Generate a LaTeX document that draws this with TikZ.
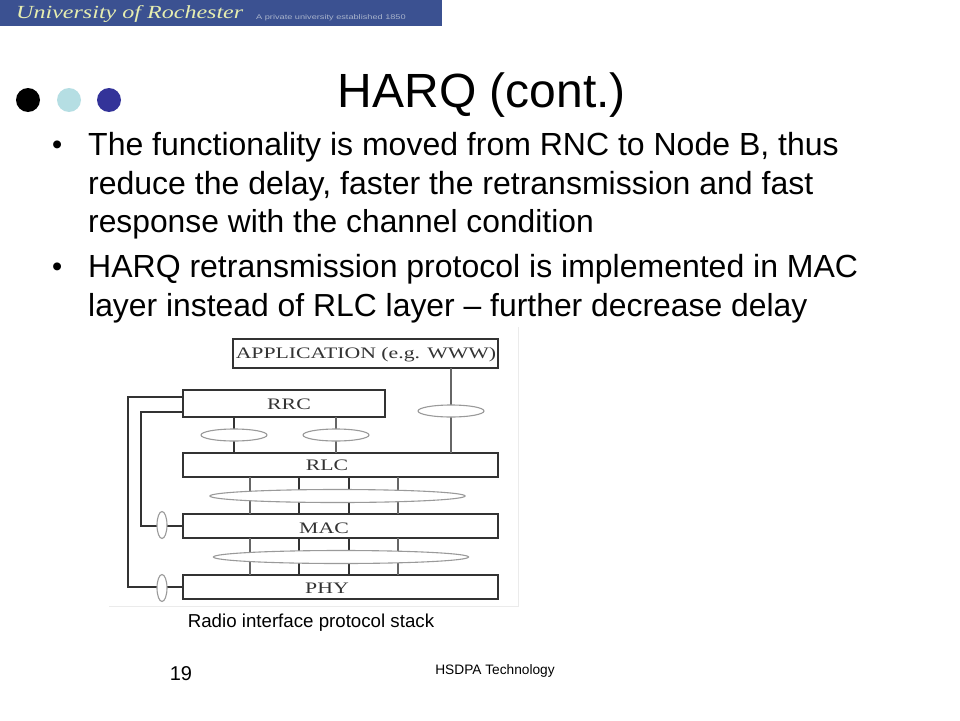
\documentclass[tikz,border=0pt]{standalone}
\usepackage{fontspec}
\setmainfont{Liberation Sans}
\newfontfamily\bannerface[FakeStretch=1.3]{Liberation Serif}
\newfontfamily\smallface[FakeStretch=1.35]{Liberation Sans}
\newfontfamily\stackface[FakeStretch=1.36]{Liberation Serif}
\usetikzlibrary{shapes.geometric}
\definecolor{bannerblue}{HTML}{3B5191}
\definecolor{bannertext}{HTML}{E6EDB0}
\definecolor{bannersmall}{HTML}{A9B4CC}
\definecolor{dotcyan}{HTML}{B5DEE3}
\definecolor{dotblue}{HTML}{333399}
\definecolor{stackline}{HTML}{333333}
\definecolor{ovalline}{HTML}{9A9A9A}
\tikzset{
  bodyline/.style={anchor=base west,inner sep=0pt,font=\fontsize{32}{32}\selectfont,text=black},
  bulletmark/.style={anchor=base west,inner sep=0pt,font=\fontsize{29}{29}\selectfont,text=black},
  layerbox/.style={draw=stackline,line width=1.6pt,fill=white,anchor=north west,inner sep=0pt,outer sep=0pt},
  layertext/.style={anchor=base,inner sep=0pt,font=\stackface\fontsize{16}{16}\selectfont,text=stackline},
  oval/.style={ellipse,draw=ovalline,line width=1.1pt,fill=white,inner sep=0pt},
  dot/.style={circle,inner sep=0pt,minimum size=24pt},
  wire/.style={draw=stackline,line width=1.5pt},
  sap/.style={draw=stackline!75,line width=1.2pt},
}
\begin{document}
\begin{tikzpicture}[x=1pt,y=-1pt]
\useasboundingbox (0,0) rectangle (960,720);
% banner
\node[fill=bannerblue,anchor=north west,minimum width=442pt,minimum height=26pt,inner sep=0pt,outer sep=0pt] (banner) at (0,0) {};
\node[anchor=base west,inner sep=0pt,text=bannertext,font=\bannerface\itshape\fontsize{18.5}{18.5}\selectfont] (uni) at (16,18.5) {University of Rochester};
\node[anchor=base west,inner sep=0pt,text=bannersmall,font=\smallface\fontsize{6.8}{6.8}\selectfont] (priv) at (256,19) {A private university established 1850};
% dots
\node[dot,fill=black] (d1) at (28,100) {};
\node[dot,fill=dotcyan] (d2) at (69,100) {};
\node[dot,fill=dotblue] (d3) at (109,100) {};
% title
\node[anchor=base,inner sep=0pt,font=\fontsize{48}{48}\selectfont] (title) at (482,107) {HARQ (cont.)};
% body
\node[bulletmark] (b1) at (52,154) {•};
\node[bodyline] (l1) at (88,155) {The functionality is moved from RNC to Node B, thus};
\node[bodyline] (l2) at (88,194) {reduce the delay, faster the retransmission and fast};
\node[bodyline,font=\fontsize{31.8}{32}\selectfont] (l3) at (88,232) {response with the channel condition};
\node[bulletmark] (b2) at (52,276) {•};
\node[bodyline] (l4) at (88,277) {HARQ retransmission protocol is implemented in MAC};
\node[bodyline,font=\fontsize{31.87}{32}\selectfont] (l5) at (88,316) {layer instead of RLC layer – further decrease delay};
% picture edge
\draw[black!8,line width=0.8pt] (109,606) -- (518,606) -- (518,327);
% layers
\node[layerbox,minimum width=265pt,minimum height=29pt] (app) at (233,339) {};
\node[layerbox,minimum width=202pt,minimum height=27pt] (rrc) at (183,390) {};
\node[layerbox,minimum width=315pt,minimum height=24pt] (rlc) at (183,453) {};
\node[layerbox,minimum width=315pt,minimum height=24pt] (mac) at (183,514) {};
\node[layerbox,minimum width=315pt,minimum height=24pt] (phy) at (183,575) {};
\node[layertext] (tapp) at (366,358.5) {APPLICATION (e.g. WWW)};
\node[layertext] (trrc) at (289,409.5) {RRC};
\node[layertext] (trlc) at (327,470.5) {RLC};
\node[layertext] (tmac) at (324,533) {MAC};
\node[layertext] (tphy) at (327,593.5) {PHY};
% anchors
\coordinate (x1) at (250,0); \coordinate (x2) at (299,0);
\coordinate (x3) at (349,0); \coordinate (x4) at (398,0);
\coordinate (xa) at (451,0); \coordinate (xb) at (234,0); \coordinate (xc) at (336,0);
\coordinate (ya) at (0,397); \coordinate (yb) at (0,412);
\coordinate (outer) at (128,0); \coordinate (inner) at (141,0);
% connectors
\draw[sap] (app.south -| xa) -- (rlc.north -| xa);
\draw[wire] (rrc.south -| xb) -- (rlc.north -| xb);
\draw[sap] (rrc.south -| xc) -- (rlc.north -| xc);
\draw[sap] (rlc.south -| x1) -- (mac.north -| x1);
\draw[wire] (rlc.south -| x2) -- (mac.north -| x2);
\draw[wire] (rlc.south -| x3) -- (mac.north -| x3);
\draw[sap] (rlc.south -| x4) -- (mac.north -| x4);
\draw[sap] (mac.south -| x1) -- (phy.north -| x1);
\draw[wire] (mac.south -| x2) -- (phy.north -| x2);
\draw[wire] (mac.south -| x3) -- (phy.north -| x3);
\draw[sap] (mac.south -| x4) -- (phy.north -| x4);
\draw[wire] (rrc.west |- ya) -- (outer |- ya) -- (outer |- phy.west) -- (phy.west);
\draw[wire] (rrc.west |- yb) -- (inner |- yb) -- (inner |- mac.west) -- (mac.west);
% ovals
\node[oval,minimum width=66pt,minimum height=12pt] (o1) at (451,411) {};
\node[oval,minimum width=66pt,minimum height=12pt] (o2) at (234,435) {};
\node[oval,minimum width=66pt,minimum height=12pt] (o3) at (336,435) {};
\node[oval,minimum width=255pt,minimum height=13pt] (o4) at (337.5,496) {};
\node[oval,minimum width=255pt,minimum height=13pt] (o5) at (341,557) {};
\node[oval,minimum width=10pt,minimum height=27pt] (o6) at (162,525) {};
\node[oval,minimum width=10pt,minimum height=27pt] (o7) at (162,588) {};
% caption and footer
\node[anchor=base,inner sep=0pt,font=\fontsize{18.7}{18.7}\selectfont] (cap) at (311,627) {Radio interface protocol stack};
\node[anchor=base,inner sep=0pt,font=\fontsize{20}{20}\selectfont] (num) at (181,680) {19};
\node[anchor=base,inner sep=0pt,font=\fontsize{13.7}{13.7}\selectfont] (foot) at (495,674) {HSDPA Technology};
\end{tikzpicture}
\end{document}
